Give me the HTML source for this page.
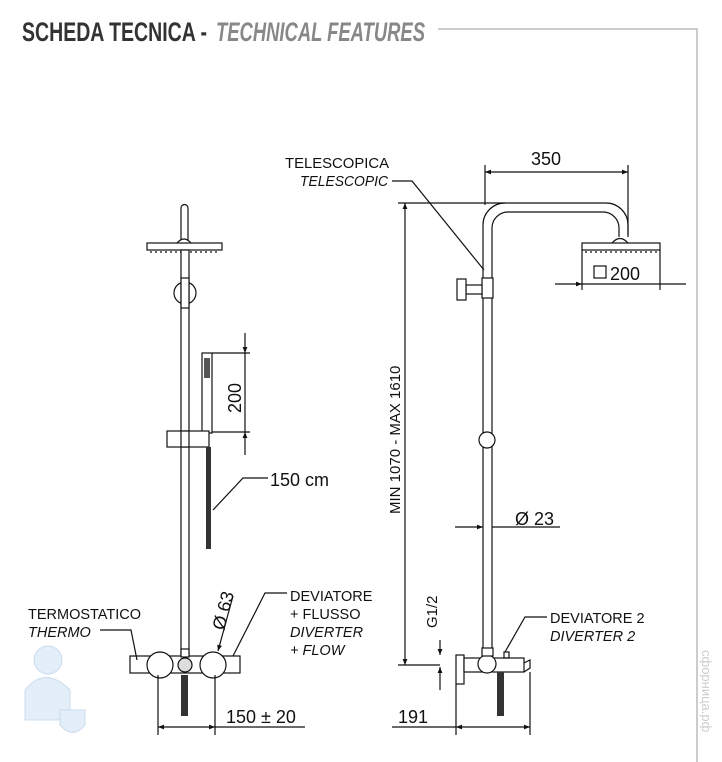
<!DOCTYPE html>
<html><head><meta charset="utf-8"><style>
html,body{margin:0;padding:0;background:#fff;}
svg{display:block;font-family:"Liberation Sans",sans-serif;}
</style></head><body>
<svg width="722" height="762" viewBox="0 0 722 762" xmlns="http://www.w3.org/2000/svg">
<defs>
<marker id="a" viewBox="0 0 10 10" refX="10" refY="5" markerWidth="12" markerHeight="6" orient="auto-start-reverse" markerUnits="userSpaceOnUse"><path d="M0,1 L10,5 L0,9 z" fill="#111"/></marker>
</defs>
<!-- header -->
<text x="22" y="41" font-family="'Liberation Sans Narrow','Liberation Sans',sans-serif" font-weight="bold" font-size="27" fill="#333" textLength="185" lengthAdjust="spacingAndGlyphs">SCHEDA TECNICA -</text>
<text x="216" y="41" font-family="'Liberation Sans Narrow','Liberation Sans',sans-serif" font-style="italic" font-weight="bold" font-size="27" fill="#888" textLength="209" lengthAdjust="spacingAndGlyphs">TECHNICAL FEATURES</text>
<polyline points="438,29 697,29 697,762" fill="none" stroke="#bbb" stroke-width="1.5"/>

<g stroke="#111" stroke-width="1.2" fill="none">
<!-- LEFT -->
<path d="M181,240 V208 a3.5,3.5 0 0 1 7,0 V240"/>
<path d="M177,243 q7,-8 14,0"/>
<rect x="147" y="243" width="75" height="7"/>
<line x1="150" y1="252" x2="219" y2="252" stroke-dasharray="2,3"/>
<rect x="181" y="250" width="8" height="405" fill="#fff"/>
<circle cx="185" cy="293" r="11"/>
<rect x="181" y="278" width="8" height="30" fill="#fff"/>
<rect x="202" y="353" width="10" height="80" fill="#fff"/>
<rect x="204" y="358" width="6" height="20" fill="#555" stroke="none"/>
<rect x="167" y="431" width="42" height="16" fill="#fff"/>
<rect x="181" y="431" width="8" height="16" fill="#fff"/>
<rect x="206" y="447" width="5" height="102" fill="#333" stroke="none"/>
<line x1="212" y1="353" x2="250" y2="353"/>
<line x1="212" y1="432" x2="250" y2="432"/>
<line x1="245" y1="333" x2="245" y2="353" marker-end="url(#a)"/>
<line x1="245" y1="455" x2="245" y2="432" marker-end="url(#a)"/>
<line x1="245" y1="353" x2="245" y2="432"/>
<polyline points="213,510 243,478 268,478"/>
<!-- mixer left -->
<rect x="130" y="656" width="110" height="17" fill="#fff"/>
<circle cx="160" cy="665" r="13" fill="#fff"/>
<circle cx="213" cy="665" r="13" fill="#fff"/>
<rect x="181" y="649" width="8" height="8" fill="#fff"/>
<circle cx="185" cy="665" r="7" fill="#ddd"/>
<rect x="181" y="675" width="7" height="41" fill="#333" stroke="none"/>
<line x1="158" y1="675" x2="158" y2="735"/>
<line x1="215" y1="675" x2="215" y2="735"/>
<line x1="158" y1="727" x2="215" y2="727" marker-start="url(#a)" marker-end="url(#a)"/>
<line x1="215" y1="727" x2="305" y2="727"/>
<line x1="233" y1="596" x2="218" y2="651" marker-end="url(#a)"/>
<polyline points="100,630 131,630 137,660"/>
<polyline points="287,593 265,593 233,656"/>

<!-- RIGHT -->
<path d="M483,655 V225 a22,22 0 0 1 22,-22 H606 a22,22 0 0 1 22,22 V237"/>
<path d="M492,655 V228 a16,16 0 0 1 16,-16 H603 a16,16 0 0 1 16,16 V237"/>
<path d="M612,243 q8,-9 16,0"/>
<rect x="582" y="243" width="78" height="7"/>
<line x1="585" y1="252" x2="657" y2="252" stroke-dasharray="2,3"/>
<rect x="594" y="266" width="12" height="12"/>
<line x1="582" y1="250" x2="582" y2="290"/>
<line x1="660" y1="250" x2="660" y2="290"/>
<line x1="555" y1="284" x2="582" y2="284" marker-end="url(#a)"/>
<line x1="582" y1="284" x2="686" y2="284"/>
<line x1="485" y1="165" x2="485" y2="205"/>
<line x1="628" y1="165" x2="628" y2="235"/>
<line x1="485" y1="172" x2="628" y2="172" marker-start="url(#a)" marker-end="url(#a)"/>
<rect x="482" y="278" width="11" height="20" fill="#fff"/>
<rect x="466" y="285" width="16" height="9" fill="#fff"/>
<rect x="457" y="279" width="9" height="21" fill="#fff"/>
<polyline points="392,181 412,181 484,270"/>
<circle cx="487" cy="440" r="8" fill="#fff"/>
<line x1="398" y1="203" x2="505" y2="203"/>
<line x1="398" y1="665" x2="440" y2="665"/>
<line x1="405" y1="203" x2="405" y2="665" marker-start="url(#a)" marker-end="url(#a)"/>
<line x1="455" y1="527" x2="483" y2="527" marker-end="url(#a)"/>
<line x1="492" y1="527" x2="560" y2="527"/>
<line x1="440" y1="640" x2="440" y2="655" marker-end="url(#a)"/>
<line x1="440" y1="690" x2="440" y2="667" marker-end="url(#a)"/>
<!-- mixer right -->
<rect x="456" y="655" width="8" height="29" fill="#fff"/>
<rect x="464" y="658" width="60" height="14" fill="#fff"/>
<path d="M524,663 L530,660 V668 L524,672"/>
<circle cx="487" cy="664" r="9" fill="#fff"/>
<rect x="482" y="648" width="11" height="8" fill="#fff"/>
<rect x="497" y="672" width="7" height="44" fill="#333" stroke="none"/>
<line x1="456" y1="684" x2="456" y2="735"/>
<line x1="530" y1="672" x2="530" y2="735"/>
<line x1="456" y1="727" x2="530" y2="727" marker-start="url(#a)" marker-end="url(#a)"/>
<line x1="392" y1="727" x2="456" y2="727"/>
<rect x="504" y="652" width="5" height="6"/>
<polyline points="547,617 525,617 505,652"/>
</g>

<g fill="#111">
<text x="0" y="0" font-size="18" transform="translate(241,413) rotate(-90)">200</text>
<text x="270" y="486" font-size="18">150 cm</text>
<text x="0" y="0" font-size="18" transform="translate(224,631) rotate(-75)">Ø 63</text>
<text x="28" y="619" font-size="14.5">TERMOSTATICO</text>
<text x="28" y="637" font-size="14.5" font-style="italic">THERMO</text>
<text x="290" y="601" font-size="14.5">DEVIATORE</text>
<text x="290" y="619" font-size="14.5">+ FLUSSO</text>
<text x="290" y="637" font-size="14.5" font-style="italic">DIVERTER</text>
<text x="290" y="655" font-size="14.5" font-style="italic">+ FLOW</text>
<text x="226" y="723" font-size="18">150 ± 20</text>
<text x="285" y="168" font-size="14.5" textLength="104" lengthAdjust="spacingAndGlyphs">TELESCOPICA</text>
<text x="300" y="186" font-size="14.5" font-style="italic" textLength="88" lengthAdjust="spacingAndGlyphs">TELESCOPIC</text>
<text x="531" y="165" font-size="18">350</text>
<text x="610" y="280" font-size="18">200</text>
<text x="0" y="0" font-size="15" transform="translate(400,514) rotate(-90)">MIN 1070 - MAX 1610</text>
<text x="515" y="525" font-size="18">Ø 23</text>
<text x="0" y="0" font-size="15" transform="translate(437,628) rotate(-90)">G1/2</text>
<text x="550" y="623" font-size="14.5">DEVIATORE 2</text>
<text x="550" y="641" font-size="14.5" font-style="italic">DIVERTER 2</text>
<text x="398" y="723" font-size="18">191</text>
</g>
<!-- watermarks -->
<g fill="#e4eef8" stroke="#c9dcef" stroke-width="1">
<circle cx="48" cy="660" r="14"/>
<path d="M25,690 q20,-25 45,0 v30 h-45z"/>
<path d="M60,710 h25 v15 q-12,15 -25,0z"/>
</g>
<text x="0" y="0" font-size="13" fill="#ccc" transform="translate(702,650) rotate(90)">сфорница.рф</text>
</svg>
</body></html>
